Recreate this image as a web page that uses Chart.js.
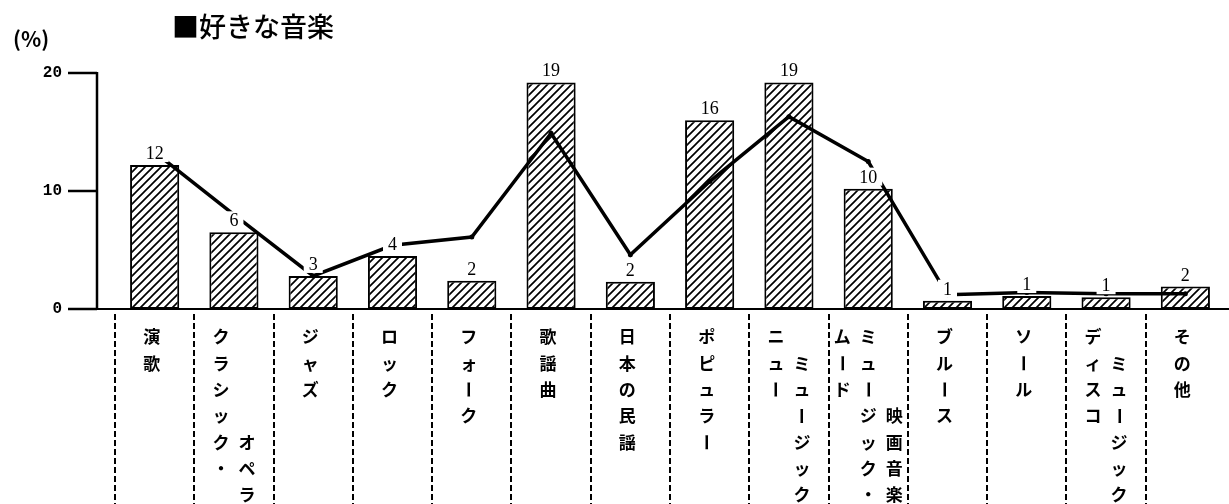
<!DOCTYPE html>
<html lang="ja">
<head>
<meta charset="utf-8">
<title>好きな音楽</title>
<script src="https://cdn.jsdelivr.net/npm/chart.js@4/dist/chart.umd.min.js"></script>
<style>
  html, body { margin: 0; padding: 0; background: #fff; }
  #grafico { display: block; }
</style>
</head>
<body>
<canvas id="grafico" width="1229" height="504"></canvas>
<script>
// datos
const titulo = '■好きな音楽';
const unidad = '(%)';
const categorias = [
    ['演歌'], ['クラシック・', 'オペラ'], ['ジャズ'], ['ロック'], ['フォーク'],
    ['歌謡曲'], ['日本の民謡'], ['ポピュラー'], ['ニュー', 'ミュージック'],
    ['ムード', 'ミュージック・', '映画音楽'], ['ブルース'], ['ソール'],
    ['ディスコ', 'ミュージック'], ['その他']
];
const valoresBarra = [12.2, 6.5, 2.8, 4.5, 2.4, 19.2, 2.3, 16.0, 19.2, 10.2, 0.7, 1.1, 1.0, 1.9];
const etiquetasBarra = ['12', '6', '3', '4', '2', '19', '2', '16', '19', '10', '1', '1', '1', '2'];
const valoresLinea = [13.3, 8.0, 2.8, 5.4, 6.1, 14.9, 4.6, 10.8, 16.3, 12.5, 1.2, 1.4, 1.3, 1.3];
const ticksY = [0, 10, 20];

// patron de rayado
function crearRayado() {
    const c = document.createElement('canvas');
    c.width = 8; c.height = 8;
    const g = c.getContext('2d');
    g.fillStyle = '#fff';
    g.fillRect(0, 0, 8, 8);
    g.strokeStyle = '#000';
    g.lineWidth = 1.7;
    g.beginPath();
    g.moveTo(-1, 9); g.lineTo(9, -1);
    g.moveTo(-1, 1); g.lineTo(1, -1);
    g.moveTo(7, 9); g.lineTo(9, 7);
    g.stroke();
    return g.createPattern(c, 'repeat');
}

// dibuja ejes, separadores y textos
const dibujoPlugin = {
    id: 'dibujo',
    afterDatasetsDraw(chart) {
        const ctx = chart.ctx;
        const area = chart.chartArea;
        const ey = chart.scales.y;
        const ex = chart.scales.x;
        ctx.save();
        ctx.fillStyle = '#000';
        ctx.strokeStyle = '#000';

        // titulo y unidad
        ctx.textAlign = 'left';
        ctx.textBaseline = 'middle';
        ctx.font = '500 27px "Noto Sans CJK JP"';
        ctx.fillText(titulo, 172, 27);
        ctx.font = 'bold 21px "Noto Sans CJK JP"';
        ctx.fillText(unidad, 13, 39);

        // eje y
        ctx.lineWidth = 2.5;
        ctx.beginPath();
        ctx.moveTo(97, ey.getPixelForValue(ticksY[ticksY.length - 1]) - 1);
        ctx.lineTo(97, area.bottom);
        ctx.stroke();
        ctx.font = 'bold 16px "Liberation Mono"';
        ctx.textAlign = 'right';
        ticksY.forEach(v => {
            const py = ey.getPixelForValue(v);
            ctx.fillText(String(v), 62, py);
            ctx.beginPath();
            ctx.moveTo(68, py);
            ctx.lineTo(97, py);
            ctx.stroke();
        });

        // linea base
        ctx.lineWidth = 2;
        ctx.beginPath();
        ctx.moveTo(68, area.bottom);
        ctx.lineTo(chart.width, area.bottom);
        ctx.stroke();

        // separadores punteados
        const ancho = (area.right - area.left) / categorias.length;
        ctx.setLineDash([6, 3]);
        ctx.lineWidth = 2;
        for (let i = 0; i < categorias.length; i++) {
            const sx = Math.round(area.left + i * ancho);
            ctx.beginPath();
            ctx.moveTo(sx, area.bottom + 5);
            ctx.lineTo(sx, chart.height);
            ctx.stroke();
        }
        ctx.setLineDash([]);

        // etiquetas de valor (sobre las barras)
        const meta = chart.getDatasetMeta(1);
        ctx.font = '18px "Liberation Serif"';
        ctx.textAlign = 'center';
        ctx.textBaseline = 'alphabetic';
        meta.data.forEach((bar, i) => {
            const txt = etiquetasBarra[i];
            const w = ctx.measureText(txt).width;
            const by = bar.y - 6;
            ctx.fillStyle = '#fff';
            ctx.fillRect(bar.x - w / 2 - 5, by - 15, w + 10, 18);
            ctx.fillStyle = '#000';
            ctx.fillText(txt, bar.x, by);
        });

        // etiquetas de categoria (verticales)
        ctx.font = 'bold 17px "Noto Sans CJK JP"';
        ctx.textBaseline = 'middle';
        const fila = 26.3;
        const y0 = area.bottom + 28;
        categorias.forEach((cols, i) => {
            const cx = ex.getPixelForValue(i);
            const n = cols.length;
            const filasMax = Math.max(7, cols[0].length);
            cols.forEach((txt, j) => {
                const colX = (n === 1 ? cx - 3 : cx + (j - (n - 1) / 2) * 26);
                const inicio = j === 0 ? 0 : filasMax - txt.length;
                Array.from(txt).forEach((ch, k) => {
                    const py = y0 + (inicio + k) * fila;
                    if (ch === 'ー') {
                        ctx.save();
                        ctx.translate(colX, py);
                        ctx.rotate(Math.PI / 2);
                        ctx.fillText(ch, 0, 0);
                        ctx.restore();
                    } else {
                        ctx.fillText(ch, colX, py);
                    }
                });
            });
        });

        ctx.restore();
    }
};

const ctx = document.getElementById('grafico').getContext('2d');
window.grafico = new Chart(ctx, {
    type: 'bar',
    data: {
        labels: categorias,
        datasets: [
            {
                type: 'line',
                data: valoresLinea,
                borderColor: '#000',
                borderWidth: 3.5,
                pointRadius: 2.5,
                pointBackgroundColor: '#000',
                pointBorderWidth: 0,
                tension: 0,
                order: 0
            },
            {
                data: valoresBarra,
                backgroundColor: crearRayado(),
                borderColor: '#000',
                borderWidth: 2,
                borderSkipped: false,
                barPercentage: 0.62,
                categoryPercentage: 1,
                order: 1
            }
        ]
    },
    options: {
        responsive: false,
        animation: false,
        devicePixelRatio: 1,
        layout: { padding: { left: 115, right: 0, top: 73, bottom: 195 } },
        plugins: {
            legend: { display: false },
            tooltip: { enabled: false },
            title: { display: false }
        },
        scales: {
            x: { display: false, offset: true },
            y: { display: false, min: 0, max: 20 }
        }
    },
    plugins: [dibujoPlugin]
});
</script>
</body>
</html>
